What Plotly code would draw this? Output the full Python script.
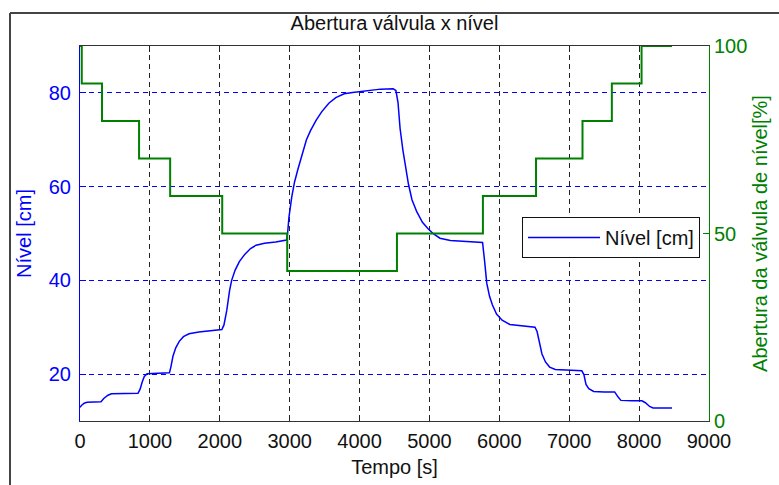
import plotly.graph_objects as go

# Nível do tanque [cm] ao longo do tempo [s]
tempo_nivel = [0, 20, 60, 100, 300, 340, 400, 450, 830, 860, 890, 920, 960, 1100, 1280,
               1300, 1330, 1370, 1420, 1480, 1560, 1700, 1900, 2030, 2060, 2100, 2140,
               2170, 2220, 2280, 2360, 2440, 2520, 2640, 2800, 2955, 2970, 2990, 3030,
               3070, 3120, 3180, 3240, 3300, 3380, 3460, 3560, 3660, 3780, 3900, 4000,
               4150, 4300, 4480, 4520, 4550, 4580, 4620, 4660, 4700, 4750, 4820, 4900,
               4980, 5060, 5150, 5300, 5500, 5760, 5790, 5820, 5860, 5900, 5960, 6040,
               6150, 6300, 6510, 6540, 6570, 6610, 6660, 6720, 6800, 7000, 7180, 7210,
               7240, 7280, 7350, 7500, 7650, 7700, 7740, 7900, 8040, 8090, 8150, 8200,
               8300, 8470]
nivel = [12.9, 13.3, 13.8, 14.0, 14.1, 14.8, 15.5, 15.8, 15.9, 16.8, 18.3, 19.5, 20.1, 20.2,
         20.3, 21.5, 23.8, 25.6, 27.0, 28.0, 28.6, 29.0, 29.3, 29.5, 30.5, 33.6, 37.8,
         40.0, 42.2, 44.0, 45.6, 46.8, 47.5, 47.9, 48.2, 48.6, 50.0, 53.5, 57.8, 61.0,
         63.8, 67.0, 70.0, 72.0, 74.2, 76.0, 77.8, 79.0, 79.8, 80.1, 80.3, 80.5, 80.8,
         80.9, 80.5, 78.0, 72.4, 67.8, 64.2, 60.5, 57.2, 54.6, 52.4, 51.0, 49.9, 49.0,
         48.5, 48.3, 48.1, 44.0, 39.4, 36.6, 34.8, 32.8, 31.5, 30.6, 30.3, 30.0, 29.1,
         26.7, 24.3, 22.6, 21.5, 21.0, 20.8, 20.7, 19.9, 17.8, 16.9, 16.3, 16.2, 16.2,
         15.1, 14.4, 14.3, 14.3, 13.9, 13.1, 12.8, 12.8, 12.8]

# Abertura da válvula [%] (degraus)
tempo_valvula = [0, 25, 315, 845, 1290, 2035, 2965, 4535, 5765, 6525, 7190, 7610, 8035, 8470]
abertura = [100, 90, 80, 70, 60, 50, 40, 50, 60, 70, 80, 90, 100, 100]

x_ticks = [0, 1000, 2000, 3000, 4000, 5000, 6000, 7000, 8000, 9000]
y_ticks_nivel = [20, 40, 60, 80]
y_ticks_valvula = [0, 50, 100]

AZUL = "#0000ff"
VERDE = "#008000"
PRETO = "#111111"
FONTE = "Liberation Sans, Arial, sans-serif"
TAM = 20

fig = go.Figure()
fig.add_trace(go.Scatter(x=tempo_valvula, y=abertura, mode="lines", line_shape="hv",
                         line=dict(color=VERDE, width=2), yaxis="y2",
                         showlegend=False, name="Abertura"))
fig.add_trace(go.Scatter(x=tempo_nivel, y=nivel, mode="lines",
                         line=dict(color=AZUL, width=1.5), name="Nível [cm]"))

fig.update_layout(
    width=779, height=485,
    margin=dict(l=80, r=70, t=46, b=64, autoexpand=False),
    paper_bgcolor="white", plot_bgcolor="white",
    font=dict(family=FONTE, size=TAM, color=PRETO),
    title=dict(text="Abertura válvula x nível", x=0.5, xref="paper",
               y=1 - 23 / 485, yref="container", yanchor="middle",
               font=dict(family=FONTE, size=TAM, color=PRETO)),
    xaxis=dict(range=[0, 9000], tickvals=x_ticks, ticks="inside", ticklen=6,
               tickcolor="#222222", showline=True, linecolor="#333333", linewidth=1,
               mirror="ticks", showgrid=True, gridcolor="#222222", griddash="5px,4px",
               gridwidth=1.2, zeroline=False, automargin=False, ticklabelstandoff=2,
               title=dict(text="Tempo [s]", standoff=8,
                          font=dict(family=FONTE, size=TAM, color=PRETO)),
               tickfont=dict(family=FONTE, size=TAM, color=PRETO)),
    yaxis=dict(range=[10, 90], tickvals=y_ticks_nivel, ticks="inside", ticklen=6,
               tickcolor=AZUL, showline=True, linecolor=AZUL, linewidth=1,
               showgrid=True, gridcolor=AZUL, griddash="5px,4px", gridwidth=1.2,
               zeroline=False, ticklabelstandoff=4, automargin=False,
               title=dict(text="Nível [cm]", standoff=11,
                          font=dict(family=FONTE, size=TAM, color=AZUL)),
               tickfont=dict(family=FONTE, size=TAM, color=AZUL)),
    yaxis2=dict(range=[0, 100], tickvals=y_ticks_valvula, overlaying="y", side="right",
                ticks="inside", ticklen=6, tickcolor=VERDE, showline=True,
                linecolor=VERDE, linewidth=1, showgrid=False, zeroline=False,
                automargin=False,
                title=dict(text="Abertura da válvula de nível[%]", standoff=6,
                           font=dict(family=FONTE, size=TAM, color=VERDE)),
                tickfont=dict(family=FONTE, size=TAM, color=VERDE)),
    legend=dict(x=(700 - 80) / 629, y=(421 - 217) / 375, xanchor="right", yanchor="top",
                bgcolor="white", bordercolor=PRETO, borderwidth=1, itemwidth=72,
                entrywidth=200, entrywidthmode="pixels",
                font=dict(family=FONTE, size=TAM, color=PRETO)),
)

# moldura da janela da figura
fig.add_shape(type="line", xref="paper", yref="paper",
              x0=(10 - 80) / 629, x1=(779 - 80) / 629, y0=(421 - 13) / 375, y1=(421 - 13) / 375,
              line=dict(color="#444444", width=2))
fig.add_shape(type="line", xref="paper", yref="paper",
              x0=(10 - 80) / 629, x1=(10 - 80) / 629, y0=(421 - 13) / 375, y1=(421 - 485) / 375,
              line=dict(color="#444444", width=2))

fig.write_html("out.html")
